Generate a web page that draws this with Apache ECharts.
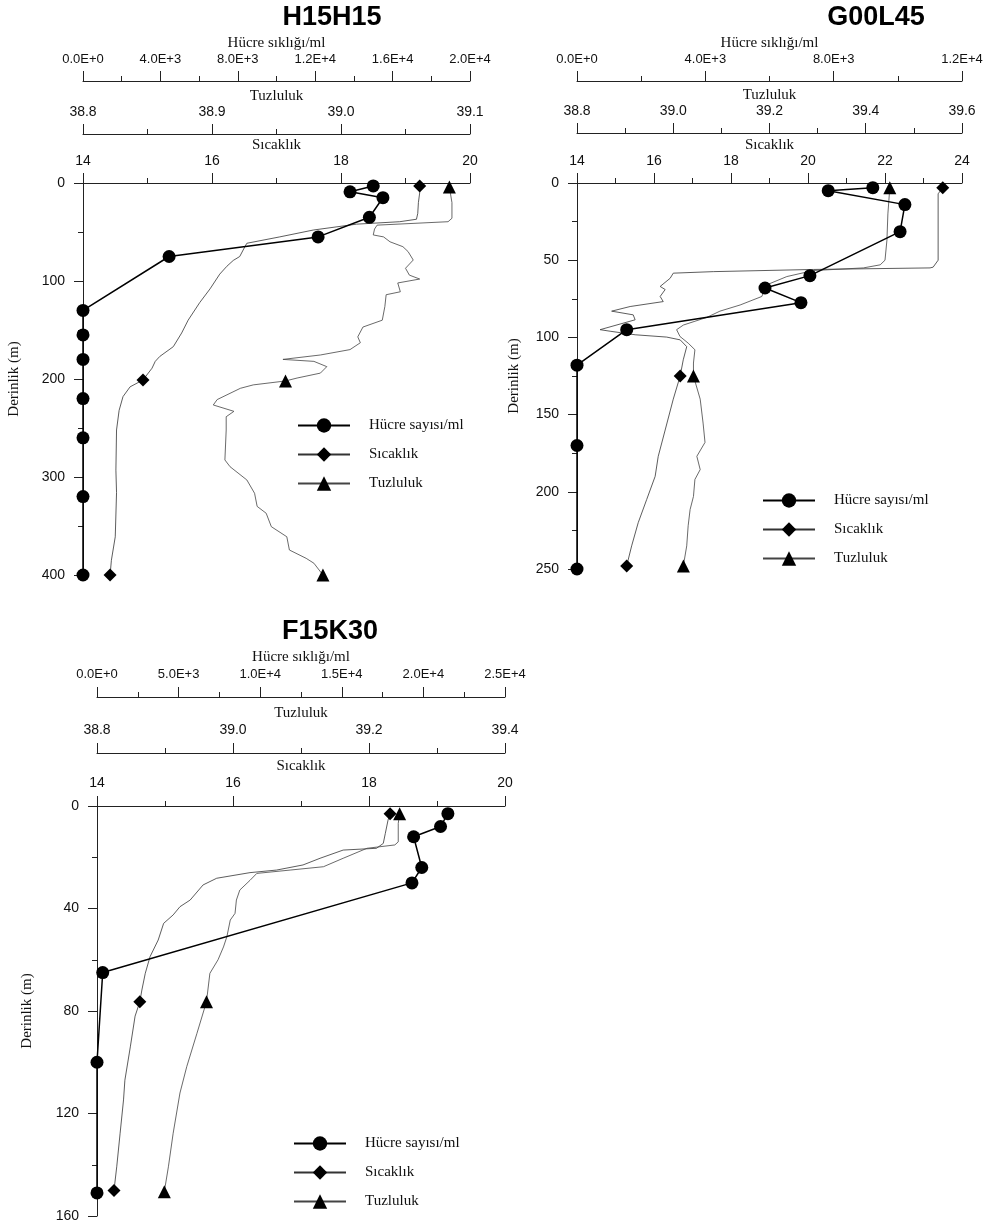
<!DOCTYPE html>
<html>
<head>
<meta charset="UTF-8">
<title>derinlik profilleri</title>
<style>
  body { margin: 0; background: #fff; }
  #chart { width: 987px; height: 1231px; }
</style>
<script src="https://cdn.jsdelivr.net/npm/echarts@6/dist/echarts.min.js"></script>
</head>
<body>
<div id="chart"></div>
<script>
// ---- H15H15 ----
var h15Depth = [3, 9, 15, 35, 55, 75, 130, 155, 180, 220, 260, 320, 400];
var h15Cells = [15000, 13800, 15500, 14800, 12150, 4450, 0, 0, 0, 0, 0, 0, 0];
// [sıcaklık, derinlik]
var h15Temp = [[19.22, 3], [19.22, 10], [19.20, 20], [19.19, 31], [19.17, 37], [18.91, 39.5], [18.24, 42],
  [17.57, 48], [17.05, 55], [16.54, 61.5], [16.51, 65], [16.43, 75], [16.33, 79], [16.23, 85], [16.12, 93],
  [15.97, 108], [15.81, 122], [15.63, 140], [15.53, 153], [15.40, 167], [15.19, 177], [15.12, 182],
  [15.07, 189], [14.93, 201], [14.73, 208], [14.62, 218], [14.56, 232], [14.52, 252], [14.51, 293],
  [14.52, 316], [14.50, 361], [14.44, 385], [14.42, 400]];
var h15TempMarks = [3, 201, 400];
// [tuzluluk, derinlik]
var h15Sal = [[39.084, 4], [39.086, 20], [39.086, 36], [39.083, 39.5], [39.028, 43], [39.026, 47], [39.025, 53],
  [39.033, 55], [39.038, 60], [39.048, 65], [39.052, 70], [39.056, 78.6], [39.050, 87], [39.053, 94],
  [39.061, 98], [39.044, 102], [39.046, 111], [39.035, 114], [39.034, 126], [39.032, 140], [39.017, 147],
  [39.013, 157], [39.015, 163], [39.007, 170], [38.984, 175.5], [38.955, 180], [38.979, 182], [38.989, 187.4],
  [38.984, 194], [38.966, 199], [38.957, 202], [38.932, 206], [38.922, 209.5], [38.904, 221], [38.901, 226.5],
  [38.917, 233], [38.911, 238.5], [38.911, 252], [38.910, 282.6], [38.914, 289.5], [38.927, 303],
  [38.933, 316.6], [38.935, 330], [38.942, 337], [38.946, 350.7], [38.958, 361], [38.960, 374.5],
  [38.973, 383], [38.979, 388], [38.986, 400]];
var h15SalMarks = [4, 202, 400];

// ---- G00L45 ----
var g00Depth = [3, 5, 14, 31.5, 60, 68, 77.5, 95, 118, 170, 250];
var g00Cells = [9220, 7830, 10220, 10070, 7260, 5860, 6980, 1550, 0, 0, 0];
var g00Temp = [[23.50, 3], [23.38, 7], [23.38, 50], [23.25, 54.5], [23.17, 55], [20.14, 56], [17.54, 57.4],
  [16.50, 58.4], [16.42, 61.7], [16.16, 67], [16.29, 69], [16.16, 73.5], [16.24, 76.8], [15.38, 80],
  [14.90, 83], [15.46, 85.4], [15.51, 88.6], [14.60, 95], [14.86, 96], [15.51, 98.3], [16.33, 99.8],
  [16.68, 101.6], [16.85, 106], [16.76, 114.5], [16.68, 125], [16.50, 140], [16.29, 160], [16.11, 177],
  [16.03, 190], [15.81, 205], [15.59, 220], [15.42, 235], [15.29, 248]];
var g00TempMarks = [3, 125, 248];
var g00Sal = [[39.450, 3], [39.446, 20], [39.444, 37], [39.440, 50], [39.430, 53], [39.395, 55], [39.291, 56.7],
  [39.236, 60.6], [39.194, 66], [39.184, 73.5], [39.139, 79], [39.097, 83], [39.070, 87], [39.021, 92],
  [39.007, 95], [39.014, 99.4], [39.031, 103.7], [39.045, 108], [39.042, 116.6], [39.042, 125],
  [39.056, 140], [39.062, 155.5], [39.066, 168], [39.049, 177], [39.056, 185.6], [39.045, 192],
  [39.042, 203], [39.035, 211.5], [39.031, 222], [39.028, 235], [39.021, 248]];
var g00SalMarks = [3, 125, 248];

// ---- F15K30 ----
var f15Depth = [3, 8, 12, 24, 30, 65, 100, 151];
var f15Cells = [21500, 21050, 19400, 19900, 19300, 350, 0, 0];
var f15Temp = [[18.31, 3], [18.28, 5.5], [18.24, 10.7], [18.21, 14.6], [18.11, 16.5], [17.62, 17.2],
  [17.28, 20.4], [17.03, 23], [16.64, 25], [16.25, 26], [15.76, 28.2], [15.56, 30.8], [15.37, 36.7],
  [15.22, 39.3], [15.12, 42.5], [14.98, 45.8], [14.90, 52.3], [14.78, 58.8], [14.71, 65.3], [14.66, 71.8],
  [14.63, 76.4], [14.56, 82], [14.49, 94], [14.41, 107], [14.39, 114.7], [14.34, 127.7], [14.29, 140.8],
  [14.25, 150]];
var f15TempMarks = [3, 76.4, 150];
var f15Sal = [[39.245, 3], [39.243, 6.8], [39.243, 14], [39.238, 15.2], [39.197, 16.5], [39.162, 20.4],
  [39.133, 23.7], [39.084, 25], [39.035, 26.3], [39.025, 29], [39.010, 32.8], [39.005, 36.7], [39.003, 41.9],
  [38.996, 44.5], [38.991, 51], [38.986, 55], [38.978, 60], [38.966, 65.3], [38.961, 76.4], [38.947, 88.7],
  [38.932, 101.7], [38.922, 112], [38.912, 127.7], [38.905, 140.8], [38.899, 150.5]];
var f15SalMarks = [3, 76.4, 150.5];

var legendNames = ['Hücre sayısı/ml', 'Sıcaklık', 'Tuzluluk'];

var sans = '"Liberation Sans", Arial, sans-serif';
var serif = '"Liberation Serif", "Times New Roman", serif';
var ink = '#111';

var chart = echarts.init(document.getElementById('chart'));

function sci(v) {
  return v.toExponential(1).toUpperCase();
}
function fix1(v) {
  return v.toFixed(1);
}

function zip(xs, ys) {
  return xs.map(function (x, i) { return [x, ys[i]]; });
}

// sadece işaretli derinliklerde sembol çiz
function profile(rows, marks) {
  return rows.map(function (r) {
    return marks.indexOf(r[1]) >= 0 ? { value: r } : { value: r, symbol: 'none' };
  });
}

function topAxis(g, name, min, max, interval, offset, fmt, size, gap, margin) {
  return {
    type: 'value', gridIndex: g, position: 'top', offset: offset,
    min: min, max: max, interval: interval,
    name: name, nameLocation: 'middle', nameGap: gap, nameMoveOverlap: false,
    nameTextStyle: { fontFamily: serif, fontSize: 15, color: ink },
    axisLine: { show: true, onZero: false, lineStyle: { color: '#222', width: 1 } },
    axisTick: { show: true, length: 10, lineStyle: { color: '#222' } },
    minorTick: { show: true, splitNumber: 2, length: 5, lineStyle: { color: '#222' } },
    splitLine: { show: false },
    axisLabel: { formatter: fmt, margin: margin, fontFamily: sans, fontSize: size, color: ink }
  };
}

function depthAxis(g, max, interval, gap) {
  return {
    type: 'value', gridIndex: g, inverse: true, min: 0, max: max, interval: interval,
    name: 'Derinlik (m)', nameLocation: 'middle', nameGap: gap, nameMoveOverlap: false,
    nameTextStyle: { fontFamily: serif, fontSize: 15, color: ink },
    axisLine: { show: true, onZero: false, lineStyle: { color: '#222', width: 1 } },
    axisTick: { show: true, length: 9, lineStyle: { color: '#222' } },
    minorTick: { show: true, splitNumber: 2, length: 5, lineStyle: { color: '#222' } },
    splitLine: { show: false },
    axisLabel: { margin: 18, fontFamily: sans, fontSize: 14, color: ink }
  };
}

var panels = [
  {
    title: 'H15H15', tx: 332, ty: 18,
    grid: { left: 83, top: 183, width: 387, height: 392 },
    temp: [14, 20, 2], sal: [38.8, 39.1, 0.1], cell: [0, 20000, 4000],
    depth: [400, 100], offs: [49, 102], gap: 30, margin: 15, ygap: 61,
    cells: zip(h15Cells, h15Depth), t: profile(h15Temp, h15TempMarks), s: profile(h15Sal, h15SalMarks),
    legend: { left: 292, top: 413 }
  },
  {
    title: 'G00L45', tx: 876, ty: 18,
    grid: { left: 577, top: 183, width: 385, height: 386 },
    temp: [14, 24, 2], sal: [38.8, 39.6, 0.2], cell: [0, 12000, 4000],
    depth: [250, 50], offs: [50, 102], gap: 30, margin: 15, ygap: 55,
    cells: zip(g00Cells, g00Depth), t: profile(g00Temp, g00TempMarks), s: profile(g00Sal, g00SalMarks),
    legend: { left: 757, top: 488 }
  },
  {
    title: 'F15K30', tx: 330, ty: 632,
    grid: { left: 97, top: 806, width: 408, height: 410 },
    temp: [14, 20, 2], sal: [38.8, 39.4, 0.2], cell: [0, 25000, 5000],
    depth: [160, 40], offs: [53, 109], gap: 32, margin: 16, ygap: 62,
    cells: zip(f15Cells, f15Depth), t: profile(f15Temp, f15TempMarks), s: profile(f15Sal, f15SalMarks),
    legend: { left: 288, top: 1131 }
  }
];

var option = {
  animation: false,
  backgroundColor: '#fff',
  grid: [], xAxis: [], yAxis: [], series: [], legend: [], graphic: []
};

panels.forEach(function (p, g) {
  var base = g * 3;
  option.grid.push(Object.assign({ show: false, outerBoundsMode: 'none' }, p.grid));
  option.xAxis.push(topAxis(g, 'Sıcaklık', p.temp[0], p.temp[1], p.temp[2], 0,
    function (v) { return String(Math.round(v)); }, 14, p.gap, p.margin));
  option.xAxis.push(topAxis(g, 'Tuzluluk', p.sal[0], p.sal[1], p.sal[2], p.offs[0], fix1, 14, p.gap, p.margin));
  option.xAxis.push(topAxis(g, 'Hücre sıklığı/ml', p.cell[0], p.cell[1], p.cell[2], p.offs[1], sci, 13, p.gap, p.margin));
  option.yAxis.push(depthAxis(g, p.depth[0], p.depth[1], p.ygap));

  option.series.push({
    type: 'line', name: legendNames[1], xAxisIndex: base, yAxisIndex: g,
    data: p.t, symbol: 'diamond', symbolSize: 13, showAllSymbol: true,
    lineStyle: { color: '#333', width: 0.8 }, itemStyle: { color: '#000' }, z: 3
  });
  option.series.push({
    type: 'line', name: legendNames[2], xAxisIndex: base + 1, yAxisIndex: g,
    data: p.s, symbol: 'triangle', symbolSize: 13, showAllSymbol: true,
    lineStyle: { color: '#444', width: 0.8 }, itemStyle: { color: '#000' }, z: 3
  });
  option.series.push({
    type: 'line', name: legendNames[0], xAxisIndex: base + 2, yAxisIndex: g,
    data: p.cells, symbol: 'circle', symbolSize: 13, showAllSymbol: true,
    lineStyle: { color: '#000', width: 1.5 }, itemStyle: { color: '#000' }, z: 4
  });

  option.legend.push({
    data: legendNames, orient: 'vertical', left: p.legend.left, top: p.legend.top,
    itemWidth: 52, itemHeight: 18, itemGap: 14, selectedMode: false,
    textStyle: { fontFamily: serif, fontSize: 15, color: ink, padding: [0, 0, 0, 14] }
  });

  option.graphic.push({
    type: 'text', x: p.tx, y: p.ty,
    style: {
      text: p.title, font: 'bold 27px ' + sans, fill: '#000',
      textAlign: 'center', textVerticalAlign: 'middle', align: 'center', verticalAlign: 'middle'
    }
  });
});

chart.setOption(option);
</script>
</body>
</html>
